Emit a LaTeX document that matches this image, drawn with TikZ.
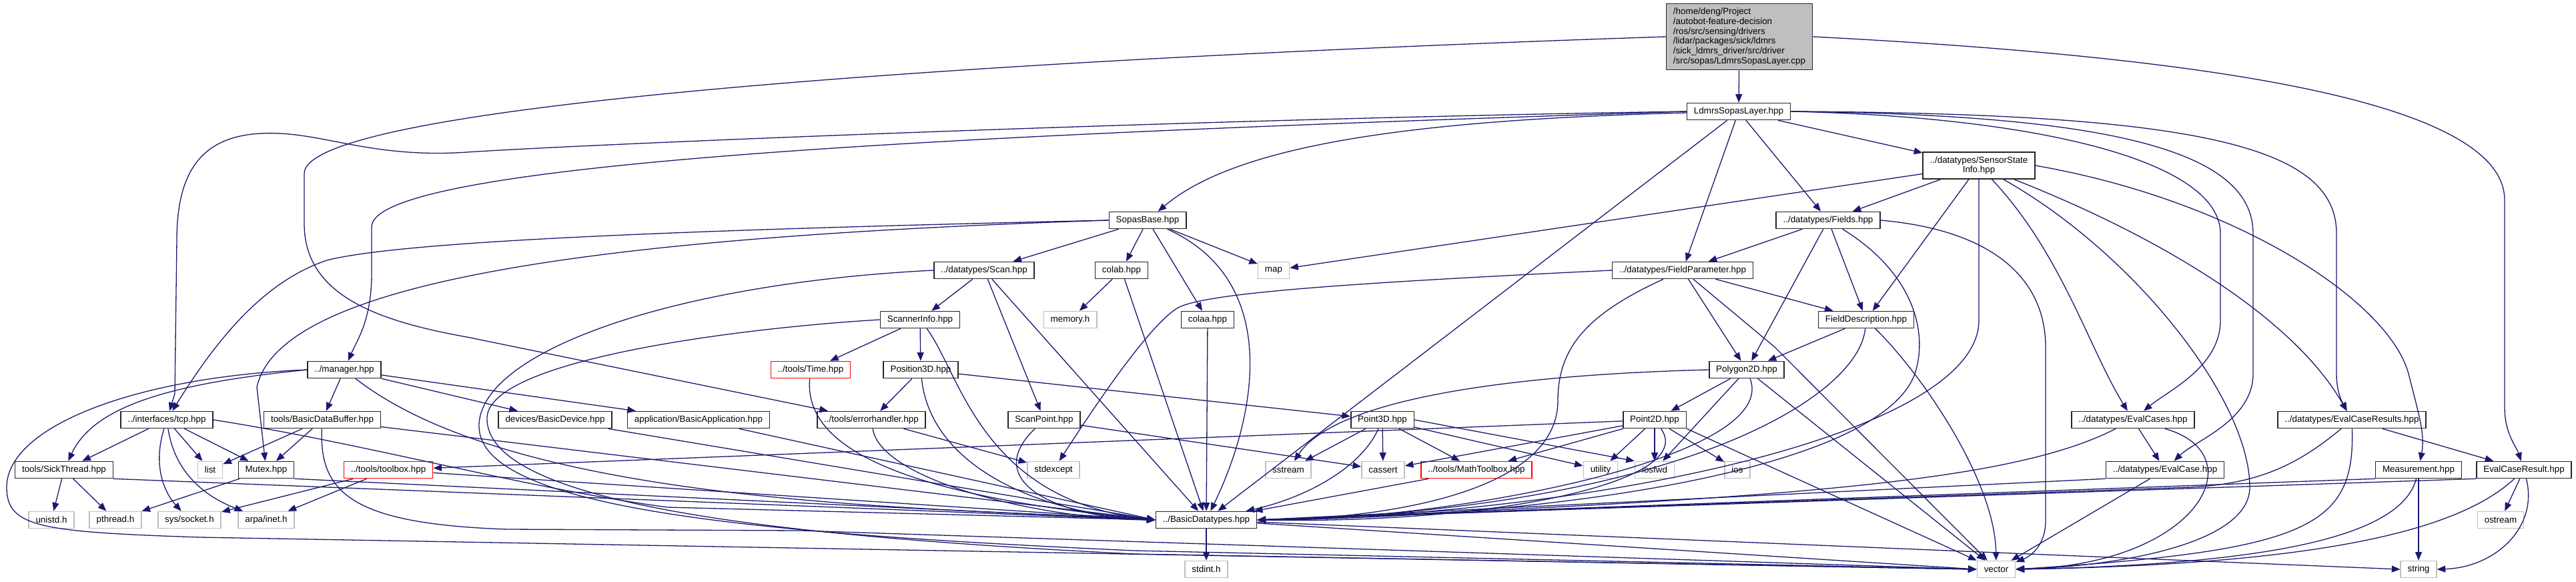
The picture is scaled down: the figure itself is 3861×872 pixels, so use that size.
\documentclass[tikz,border=0pt]{standalone}
\usepackage{fontspec}
\setmainfont{Liberation Sans}
\usetikzlibrary{arrows.meta}

\definecolor{midnight}{RGB}{25,25,112}
\definecolor{grey75}{RGB}{191,191,191}

\tikzset{
  file/.style={draw=black!85, fill=white, line width=0.8pt, font=\fontsize{6.7}{7.4}\selectfont,
    inner xsep=5.2pt, inner ysep=1pt, minimum height=12.5pt},
  sysfile/.style={file, draw=grey75},
  cutfile/.style={file, draw=red},
  rootfile/.style={file, fill=grey75, align=left, minimum height=49.5pt},
  dep/.style={draw=midnight, line width=0.65pt, -{Triangle[length=6.3pt,width=5pt]}},
}

\begin{document}
\begin{tikzpicture}[x=0.5pt, y=-0.5pt]
    \useasboundingbox (0,0) rectangle (3861,872);

    % Draw nodes
    \node[rootfile] (root) at (2607,55) {/home/deng/Project\\/autobot-feature-decision\\/ros/src/sensing/drivers\\/lidar/packages/sick/ldmrs\\/sick\_ldmrs\_driver/src/driver\\/src/sopas/LdmrsSopasLayer.cpp};
    \node[file] (lsl) at (2606,167) {LdmrsSopasLayer.hpp};
    \node[file, align=center, minimum height=20pt] (ssi) at (2966,248) {../datatypes/SensorState\\Info.hpp};
    \node[file] (sopas) at (1720,330) {SopasBase.hpp};
    \node[file] (fields) at (2740,330) {../datatypes/Fields.hpp};
    \node[file] (scan) at (1475,405) {../datatypes/Scan.hpp};
    \node[file] (colab) at (1681,405) {colab.hpp};
    \node[sysfile] (map) at (1909,405) {map};
    \node[file] (fparam) at (2522,405) {../datatypes/FieldParameter.hpp};
    \node[file] (sinfo) at (1379,479) {ScannerInfo.hpp};
    \node[sysfile] (memory) at (1604,479) {memory.h};
    \node[file] (colaa) at (1810,479) {colaa.hpp};
    \node[file] (fdesc) at (2797,479) {FieldDescription.hpp};
    \node[file] (manager) at (516,554) {../manager.hpp};
    \node[cutfile] (time) at (1215,554) {../tools/Time.hpp};
    \node[file] (pos3d) at (1380,554) {Position3D.hpp};
    \node[file] (poly) at (2618,554) {Polygon2D.hpp};
    \node[file] (tcp) at (250,629) {../interfaces/tcp.hpp};
    \node[file] (buffer) at (483,629) {tools/BasicDataBuffer.hpp};
    \node[file] (device) at (832,629) {devices/BasicDevice.hpp};
    \node[file] (app) at (1047,629) {application/BasicApplication.hpp};
    \node[file] (errh) at (1306,629) {../tools/errorhandler.hpp};
    \node[file] (spoint) at (1565,629) {ScanPoint.hpp};
    \node[file] (p3d) at (2072,629) {Point3D.hpp};
    \node[file] (p2d) at (2480,629) {Point2D.hpp};
    \node[file] (ecases) at (3197,629) {../datatypes/EvalCases.hpp};
    \node[file] (ecresults) at (3525,629) {../datatypes/EvalCaseResults.hpp};
    \node[file] (sthread) at (96,704) {tools/SickThread.hpp};
    \node[sysfile] (list) at (315,704) {list};
    \node[file] (mutex) at (399,704) {Mutex.hpp};
    \node[cutfile] (toolbox) at (582,704) {../tools/toolbox.hpp};
    \node[sysfile] (stdexcept) at (1579,704) {stdexcept};
    \node[sysfile] (sstream) at (1931,704) {sstream};
    \node[sysfile] (cassert) at (2073,704) {cassert};
    \node[cutfile] (mtool) at (2213,704) {../tools/MathToolbox.hpp};
    \node[sysfile] (utility) at (2399,704) {utility};
    \node[sysfile] (iosfwd) at (2480,704) {iosfwd};
    \node[sysfile] (ios) at (2604,704) {ios};
    \node[file] (ecase) at (3245,704) {../datatypes/EvalCase.hpp};
    \node[file] (measure) at (3625,704) {Measurement.hpp};
    \node[file] (ecresult) at (3783,704) {EvalCaseResult.hpp};
    \node[sysfile] (unistd) at (77,779) {unistd.h};
    \node[sysfile] (pthread) at (173,779) {pthread.h};
    \node[sysfile] (socket) at (284,779) {sys/socket.h};
    \node[sysfile] (inet) at (399,779) {arpa/inet.h};
    \node[file] (bdt) at (1808,779) {../BasicDatatypes.hpp};
    \node[sysfile] (ostream) at (3748,779) {ostream};
    \node[sysfile] (stdint) at (1808,853) {stdint.h};
    \node[sysfile] (vector) at (2992,853) {vector};
    \node[sysfile] (string) at (3625,853) {string};

    % Draw connections
    \draw[dep] (root) -- (lsl);
    \draw[dep] (root.east) .. controls (3300,85) and (3754,150) .. (3754,300) -- (3754,610) .. controls (3754,650) and (3772,670) .. (ecresult);
    \draw[dep] (root.west) .. controls (1600,85) and (456,150) .. (456,260) -- (456,335) .. controls (456,440) and (560,480) .. (700,505) -- (errh);

    \draw[dep] (lsl.west) .. controls (1800,178) and (900,215) .. (700,228) .. controls (550,238) and (480,195) .. (390,200) .. controls (300,205) and (265,260) .. (265,360) -- (262,590) -- (tcp);
    \draw[dep] (lsl.west) .. controls (1500,200) and (557,240) .. (557,340) -- (557,410) .. controls (557,480) and (535,510) .. (manager);
    \draw[dep] (lsl) .. controls (2100,180) and (1850,220) .. (sopas);
    \draw[dep] (lsl) -- (bdt);
    \draw[dep] (lsl) -- (fparam);
    \draw[dep] (lsl) -- (ssi);
    \draw[dep] (lsl) -- (fields);
    \draw[dep] (lsl.east) .. controls (3050,175) and (3328,240) .. (3328,350) -- (3328,480) .. controls (3328,550) and (3250,585) .. (ecases);
    \draw[dep] (lsl.east) .. controls (3180,172) and (3377,230) .. (3377,350) -- (3377,560) .. controls (3377,630) and (3290,660) .. (ecase);
    \draw[dep] (lsl.east) .. controls (3300,170) and (3502,220) .. (3502,350) -- (3502,560) .. controls (3502,590) and (3512,605) .. (ecresults);

    \draw[dep] (ssi) -- (map);
    \draw[dep] (ssi) -- (fields);
    \draw[dep] (ssi) -- (fdesc);
    \draw[dep] (ssi.south) -- (2966,480) .. controls (2966,650) and (2400,770) .. (bdt.east);
    \draw[dep] (ssi) .. controls (3090,380) and (3130,520) .. (ecases);
    \draw[dep] (ssi) .. controls (3200,380) and (3372,600) .. (3372,730) .. controls (3372,820) and (3150,850) .. (vector);
    \draw[dep] (ssi) .. controls (3250,360) and (3440,480) .. (ecresults);
    \draw[dep] (ssi.east) .. controls (3350,300) and (3580,450) .. (3610,560) .. controls (3625,620) and (3635,650) .. (measure);

    \draw[dep] (fields) -- (fparam);
    \draw[dep] (fields) -- (poly);
    \draw[dep] (fields) -- (fdesc);
    \draw[dep] (fields) .. controls (2870,410) and (2890,500) .. (2870,560) .. controls (2820,700) and (2350,775) .. (bdt.east);
    \draw[dep] (fields.east) .. controls (2990,345) and (3066,420) .. (3066,520) -- (3066,780) .. controls (3066,820) and (3040,835) .. (vector);

    \draw[dep] (fparam.west) .. controls (2000,425) and (1800,440) .. (1764,462) .. controls (1720,490) and (1640,610) .. (stdexcept);
    \draw[dep] (fparam) .. controls (2380,470) and (2335,520) .. (2335,600) .. controls (2335,745) and (2050,778) .. (bdt.east);
    \draw[dep] (fparam) -- (poly);
    \draw[dep] (fparam) -- (fdesc);
    \draw[dep] (fparam) -- (2660,520) -- (vector);

    \draw[dep] (fdesc) -- (poly);
    \draw[dep] (fdesc) .. controls (2785,600) and (2500,765) .. (bdt.east);
    \draw[dep] (fdesc) .. controls (2880,560) and (2990,720) .. (vector);

    \draw[dep] (poly) -- (p2d);
    \draw[dep] (poly.west) .. controls (2250,562) and (2000,600) .. (sstream);
    \draw[dep] (poly) -- (iosfwd);
    \draw[dep] (poly) .. controls (2670,690) and (2150,782) .. (bdt.east);
    \draw[dep] (poly) -- (vector);

    \draw[dep] (p2d) -- (cassert);
    \draw[dep] (p2d) -- (mtool);
    \draw[dep] (p2d) -- (utility);
    \draw[dep] (p2d) -- (iosfwd);
    \draw[dep] (p2d) -- (ios);
    \draw[dep] (p2d) .. controls (2545,720) and (2250,785) .. (bdt.east);
    \draw[dep] (p2d.south east) -- (vector);
    \draw[dep] (p2d) -- (toolbox);

    \draw[dep] (p3d) -- (sstream);
    \draw[dep] (p3d) -- (cassert);
    \draw[dep] (p3d) -- (mtool);
    \draw[dep] (p3d) -- (utility);
    \draw[dep] (p3d.east) -- (iosfwd.north west);
    \draw[dep] (p3d) .. controls (2040,700) and (1960,745) .. (bdt);
    \draw[dep] (mtool) -- (bdt);

    \draw[dep] (pos3d) -- (p3d);
    \draw[dep] (pos3d) -- (errh);
    \draw[dep] (pos3d) .. controls (1395,700) and (1560,770) .. (bdt.west);

    \draw[dep] (sinfo) -- (pos3d);
    \draw[dep] (sinfo) -- (time);
    \draw[dep] (sinfo) .. controls (1440,560) and (1470,750) .. (bdt.west);
    \draw[dep] (sinfo.west) .. controls (1100,492) and (735,540) .. (730,625) .. controls (725,760) and (1200,805) .. (1700,830) -- (vector.west);

    \draw[dep] (time) .. controls (1205,660) and (1320,740) .. (bdt.west);
    \draw[dep] (errh) -- (stdexcept);
    \draw[dep] (errh) .. controls (1320,720) and (1560,778) .. (bdt.west);
    \draw[dep] (spoint) -- (cassert);
    \draw[dep] (spoint) .. controls (1470,720) and (1580,775) .. (bdt.west);

    \draw[dep] (scan) -- (sinfo);
    \draw[dep] (scan) -- (spoint);
    \draw[dep] (scan) -- (bdt);
    \draw[dep] (scan.west) .. controls (1000,425) and (715,530) .. (718,640) .. controls (722,765) and (1150,800) .. (1700,825) -- (vector.west);
    \draw[dep] (colab) -- (memory);
    \draw[dep] (colab) -- (bdt);
    \draw[dep] (colaa) -- (bdt);

    \draw[dep] (sopas) -- (scan);
    \draw[dep] (sopas) -- (colab);
    \draw[dep] (sopas) -- (colaa);
    \draw[dep] (sopas) -- (map);
    \draw[dep] (sopas) .. controls (1920,420) and (1885,620) .. (bdt);
    \draw[dep] (sopas.west) .. controls (1000,345) and (600,362) .. (490,390) .. controls (400,420) and (330,500) .. (tcp);
    \draw[dep] (sopas.west) .. controls (900,355) and (420,420) .. (385,580) -- (mutex);

    \draw[dep] (manager.west) .. controls (200,565) and (10,640) .. (10,730) .. controls (10,790) and (60,797) .. (300,805) -- (vector.west);
    \draw[dep] (manager.west) .. controls (250,575) and (140,610) .. (sthread);
    \draw[dep] (manager) -- (buffer);
    \draw[dep] (manager) -- (device);
    \draw[dep] (manager) -- (app);
    \draw[dep] (manager) .. controls (780,760) and (1400,760) .. (bdt.west);

    \draw[dep] (tcp) -- (sthread);
    \draw[dep] (tcp) -- (list);
    \draw[dep] (tcp) -- (mutex);
    \draw[dep] (tcp) .. controls (228,700) and (248,740) .. (socket);
    \draw[dep] (tcp) .. controls (262,710) and (310,745) .. (inet);
    \draw[dep] (tcp.east) .. controls (550,665) and (780,730) .. (1000,760) -- (bdt.west);

    \draw[dep] (buffer) -- (list);
    \draw[dep] (buffer) -- (mutex);
    \draw[dep] (buffer) -- (bdt.west);
    \draw[dep] (buffer) .. controls (478,740) and (530,785) .. (760,793) -- (1200,795) -- (vector.west);
    \draw[dep] (device) -- (bdt.west);
    \draw[dep] (app) -- (bdt.west);

    \draw[dep] (sthread) -- (unistd);
    \draw[dep] (sthread) -- (pthread);
    \draw[dep] (sthread.south east) -- (bdt.west);
    \draw[dep] (mutex) -- (pthread);
    \draw[dep] (mutex.south east) -- (bdt.west);
    \draw[dep] (toolbox) -- (socket);
    \draw[dep] (toolbox) -- (inet);
    \draw[dep] (toolbox) -- (bdt.west);

    \draw[dep] (ecases) -- (ecase);
    \draw[dep] (ecases) .. controls (3020,720) and (2700,748) .. (bdt.east);
    \draw[dep] (ecases) .. controls (3380,680) and (3300,845) .. (vector.east);
    \draw[dep] (ecase.south west) -- (bdt.east);
    \draw[dep] (ecase) -- (vector);
    \draw[dep] (ecresults) -- (ecresult);
    \draw[dep] (ecresults) .. controls (3440,700) and (3380,725) .. (3283,730) -- (bdt.east);
    \draw[dep] (ecresults) .. controls (3530,790) and (3460,825) .. (vector.east);
    \draw[dep] (measure.south west) -- (bdt.east);
    \draw[dep] (measure) .. controls (3600,800) and (3420,845) .. (vector.east);
    \draw[dep] (measure) -- (string);
    \draw[dep] (ecresult) -- (ostream);
    \draw[dep] (ecresult) .. controls (3805,790) and (3740,850) .. (string.east);
    \draw[dep] (ecresult) .. controls (3690,790) and (3500,845) .. (vector.east);
    \draw[dep] (ecresult.south west) -- (bdt.east);

    \draw[dep] (bdt) -- (stdint);
    \draw[dep] (bdt) -- (vector.west);
    \draw[dep] (bdt) -- (string.west);
\end{tikzpicture}
\end{document}
